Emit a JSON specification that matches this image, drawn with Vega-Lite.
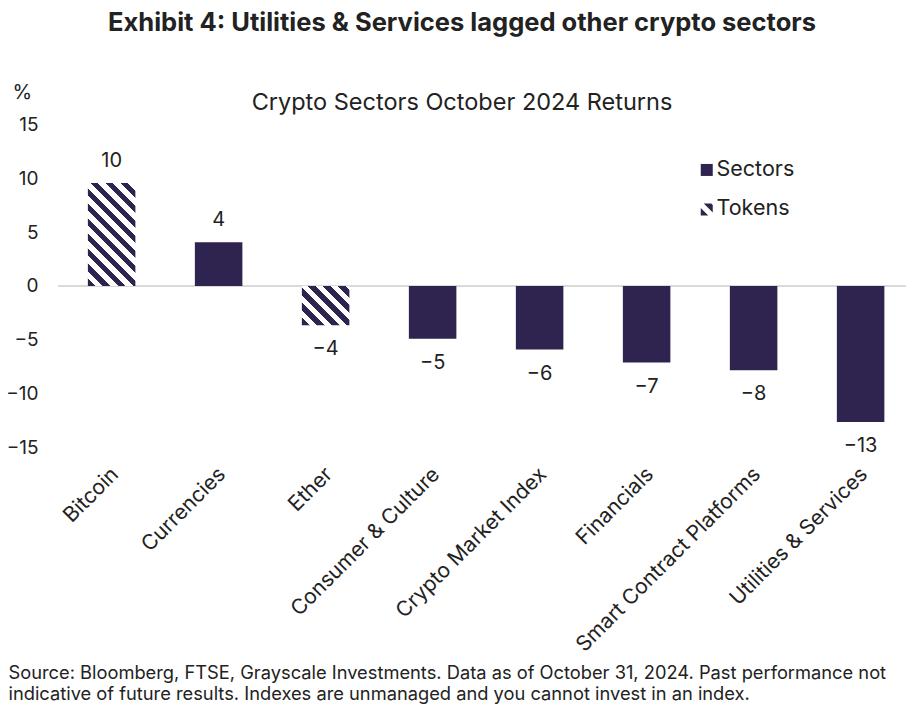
{
  "$schema": "https://vega.github.io/schema/vega-lite/v6.json",
  "width": 848,
  "height": 322.5,
  "autosize": {"type": "none"},
  "padding": {"left": 58, "top": 124.7, "right": 17, "bottom": 264.8},
  "background": "white",
  "config": {
    "view": {"stroke": null},
    "font": "Inter",
    "axisY": {
      "domain": false,
      "ticks": false,
      "grid": false,
      "labelFlush": false,
      "labelFontSize": 19,
      "labelFont": "Inter",
      "labelColor": "#222222",
      "labelPadding": 20,
      "titleAngle": 0,
      "titleAlign": "left",
      "titleBaseline": "middle",
      "titleX": -46,
      "titleY": -32,
      "titleFont": "Inter",
      "titleFontSize": 20,
      "titleFontWeight": "normal",
      "titleColor": "#222222"
    }
  },
  "title": {
    "text": "Exhibit 4: Utilities & Services lagged other crypto sectors",
    "subtitle": "Crypto Sectors October 2024 Returns",
    "anchor": "middle",
    "dx": -20,
    "dy": 44,
    "offset": 12,
    "subtitlePadding": 54.5,
    "font": "Inter",
    "fontSize": 25.5,
    "fontWeight": "bold",
    "color": "#222222",
    "subtitleFont": "Inter",
    "subtitleFontSize": 23.5,
    "subtitleColor": "#222222"
  },
  "data": {
    "values": [
      {"sector": "Bitcoin", "type": "Tokens", "value": 9.58},
      {"sector": "Currencies", "type": "Sectors", "value": 4.07},
      {"sector": "Ether", "type": "Tokens", "value": -3.66},
      {"sector": "Consumer & Culture", "type": "Sectors", "value": -4.9},
      {"sector": "Crypto Market Index", "type": "Sectors", "value": -5.92},
      {"sector": "Financials", "type": "Sectors", "value": -7.13},
      {"sector": "Smart Contract Platforms", "type": "Sectors", "value": -7.84},
      {"sector": "Utilities & Services", "type": "Sectors", "value": -12.65}
    ]
  },
  "layer": [
    {
      "mark": {"type": "rule", "color": "#d9d9d9", "strokeWidth": 1},
      "encoding": {"y": {"datum": 0, "type": "quantitative"}}
    },
    {
      "encoding": {
        "x": {
          "field": "sector",
          "type": "nominal",
          "sort": null,
          "scale": {"paddingInner": 0.556, "paddingOuter": 0.2407, "align": 0.58},
          "axis": {
            "labelAngle": -45,
            "labelFontSize": 21,
            "labelFont": "Inter",
            "labelColor": "#222222",
            "labelPadding": 16,
            "labelOffset": -4,
            "labelLimit": 0,
            "labelOverlap": false,
            "domain": false,
            "ticks": false,
            "title": [
              "Source: Bloomberg, FTSE, Grayscale Investments. Data as of October 31, 2024. Past performance not",
              "indicative of future results. Indexes are unmanaged and you cannot invest in an index."
            ],
            "titleFont": "Inter",
            "titleFontSize": 18.3,
            "titleFontWeight": "normal",
            "titleColor": "#222222",
            "titleAlign": "left",
            "titleAnchor": "start",
            "titleBaseline": "alphabetic",
            "titleX": -50,
            "titleY": 231,
            "titleLineHeight": 21.5
          }
        },
        "y": {
          "field": "value",
          "type": "quantitative",
          "scale": {"domain": [-15, 15], "nice": false},
          "axis": {"values": [-15, -10, -5, 0, 5, 10, 15], "format": "d", "title": "%"}
        }
      },
      "layer": [
        {
          "mark": {"type": "bar", "strokeWidth": 0},
          "encoding": {
            "fill": {
              "condition": [
                {
                  "test": "datum.sector === 'Bitcoin'",
                  "value": {
                    "gradient": "linear", "x1": 0, "y1": 1, "x2": 0.5557, "y2": -0.205,
                    "stops": [
                      {"offset": 0, "color": "#2e244f"}, {"offset": 0.05, "color": "#2e244f"}, {"offset": 0.05, "color": "#ffffff"}, {"offset": 0.1, "color": "#ffffff"},
                      {"offset": 0.1, "color": "#2e244f"}, {"offset": 0.15, "color": "#2e244f"}, {"offset": 0.15, "color": "#ffffff"}, {"offset": 0.2, "color": "#ffffff"},
                      {"offset": 0.2, "color": "#2e244f"}, {"offset": 0.25, "color": "#2e244f"}, {"offset": 0.25, "color": "#ffffff"}, {"offset": 0.3, "color": "#ffffff"},
                      {"offset": 0.3, "color": "#2e244f"}, {"offset": 0.35, "color": "#2e244f"}, {"offset": 0.35, "color": "#ffffff"}, {"offset": 0.4, "color": "#ffffff"},
                      {"offset": 0.4, "color": "#2e244f"}, {"offset": 0.45, "color": "#2e244f"}, {"offset": 0.45, "color": "#ffffff"}, {"offset": 0.5, "color": "#ffffff"},
                      {"offset": 0.5, "color": "#2e244f"}, {"offset": 0.55, "color": "#2e244f"}, {"offset": 0.55, "color": "#ffffff"}, {"offset": 0.6, "color": "#ffffff"},
                      {"offset": 0.6, "color": "#2e244f"}, {"offset": 0.65, "color": "#2e244f"}, {"offset": 0.65, "color": "#ffffff"}, {"offset": 0.7, "color": "#ffffff"},
                      {"offset": 0.7, "color": "#2e244f"}, {"offset": 0.75, "color": "#2e244f"}, {"offset": 0.75, "color": "#ffffff"}, {"offset": 0.8, "color": "#ffffff"},
                      {"offset": 0.8, "color": "#2e244f"}, {"offset": 0.85, "color": "#2e244f"}, {"offset": 0.85, "color": "#ffffff"}, {"offset": 0.9, "color": "#ffffff"},
                      {"offset": 0.9, "color": "#2e244f"}, {"offset": 0.95, "color": "#2e244f"}, {"offset": 0.95, "color": "#ffffff"}, {"offset": 1, "color": "#ffffff"}
                    ]
                  }
                },
                {
                  "test": "datum.sector === 'Ether'",
                  "value": {
                    "gradient": "linear", "x1": 0, "y1": 1, "x2": 1.0848, "y2": 0.1024,
                    "stops": [
                      {"offset": 0, "color": "#2e244f"}, {"offset": 0.0864, "color": "#2e244f"}, {"offset": 0.0864, "color": "#ffffff"}, {"offset": 0.1728, "color": "#ffffff"},
                      {"offset": 0.1728, "color": "#2e244f"}, {"offset": 0.2592, "color": "#2e244f"}, {"offset": 0.2592, "color": "#ffffff"}, {"offset": 0.3456, "color": "#ffffff"},
                      {"offset": 0.3456, "color": "#2e244f"}, {"offset": 0.432, "color": "#2e244f"}, {"offset": 0.432, "color": "#ffffff"}, {"offset": 0.5184, "color": "#ffffff"},
                      {"offset": 0.5184, "color": "#2e244f"}, {"offset": 0.6048, "color": "#2e244f"}, {"offset": 0.6048, "color": "#ffffff"}, {"offset": 0.6912, "color": "#ffffff"},
                      {"offset": 0.6912, "color": "#2e244f"}, {"offset": 0.7776, "color": "#2e244f"}, {"offset": 0.7776, "color": "#ffffff"}, {"offset": 0.864, "color": "#ffffff"},
                      {"offset": 0.864, "color": "#2e244f"}, {"offset": 0.9504, "color": "#2e244f"}, {"offset": 0.9504, "color": "#ffffff"}, {"offset": 1, "color": "#ffffff"}
                    ]
                  }
                }
              ],
              "value": "#2e244f"
            }
          }
        },
        {
          "mark": {"type": "point", "filled": true, "color": "#2e244f", "opacity": 0, "strokeWidth": 0},
          "encoding": {
            "shape": {
              "field": "type",
              "type": "nominal",
              "scale": {
                "domain": ["Sectors", "Tokens"],
                "range": ["square", "M-1,-0.25L0.25,1L-1,1Z M-0.5,-1L0.75,-1L1,-0.75L1,0.5Z"]
              },
              "legend": {
                "title": null,
                "orient": "none",
                "legendX": 638,
                "legendY": 34.5,
                "padding": 0,
                "symbolSize": 144,
                "symbolOpacity": 1,
                "symbolFillColor": "#2e244f",
                "symbolStrokeWidth": 0,
                "labelFont": "Inter",
                "labelFontSize": 21.5,
                "labelColor": "#222222",
                "labelOffset": -1,
                "rowPadding": 16.5
              }
            }
          }
        },
        {
          "transform": [{"filter": "datum.value >= 0"}],
          "mark": {"type": "text", "baseline": "alphabetic", "dy": -16, "font": "Inter", "fontSize": 20, "color": "#222222"},
          "encoding": {"text": {"field": "value", "type": "quantitative", "format": ".0f"}}
        },
        {
          "transform": [{"filter": "datum.value < 0"}],
          "mark": {"type": "text", "baseline": "alphabetic", "dy": 30, "font": "Inter", "fontSize": 20, "color": "#222222"},
          "encoding": {"text": {"field": "value", "type": "quantitative", "format": ".0f"}}
        }
      ]
    }
  ]
}
